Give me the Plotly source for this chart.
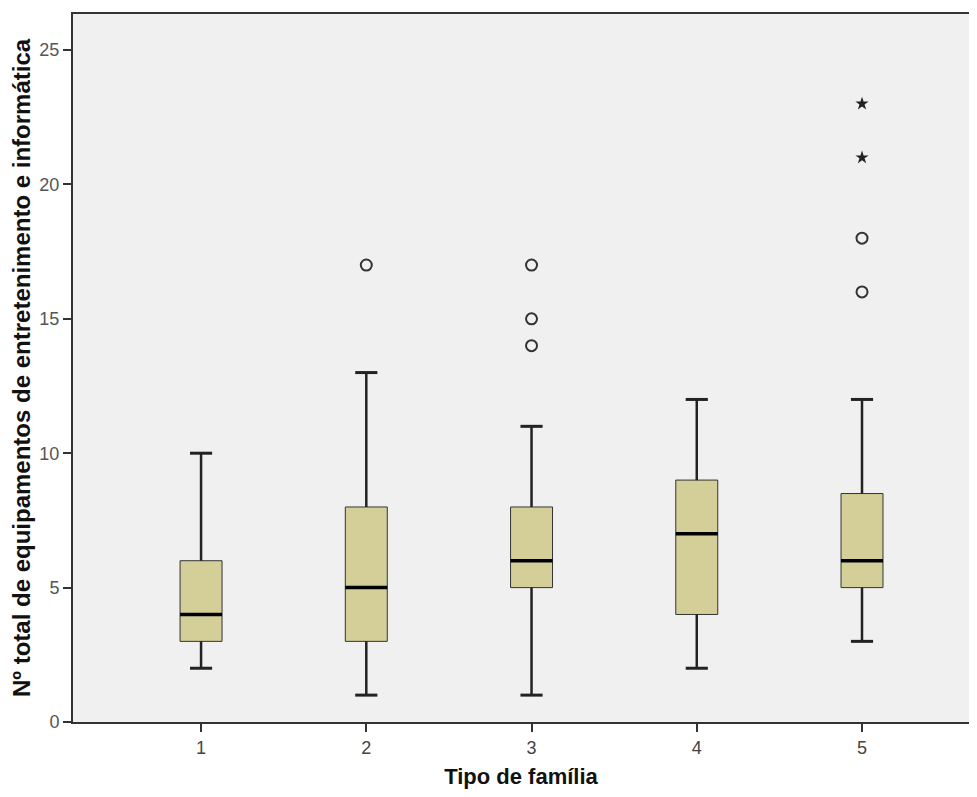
import plotly.graph_objects as go

# Data
groups = [1, 2, 3, 4, 5]
q1 = [3, 3, 5, 4, 5]
median = [4, 5, 6, 7, 6]
q3 = [6, 8, 8, 9, 8.5]
lower = [2, 1, 1, 2, 3]
upper = [10, 13, 11, 12, 12]
outlier_x = [2, 3, 3, 3, 5, 5]
outlier_y = [17, 14, 15, 17, 16, 18]
extreme_x = [5, 5]
extreme_y = [21, 23]
y_ticks = [0, 5, 10, 15, 20, 25]

box_w = 0.254
cap_hw = 0.067
dark = "#222222"

fig = go.Figure()

fig.add_trace(go.Box(
    x=groups, q1=q1, median=median, q3=q3,
    lowerfence=lower, upperfence=upper,
    width=box_w, whiskerwidth=0.5,
    fillcolor="#D4CF98", line=dict(color="#333333", width=1),
    boxpoints=False, showlegend=False, hoverinfo="skip",
))

# thicker whiskers, caps and medians
wx, wy = [], []
for g, a, b, lo, hi in zip(groups, q1, q3, lower, upper):
    wx += [g, g, None, g, g, None]
    wy += [b, hi, None, a, lo, None]
fig.add_trace(go.Scatter(x=wx, y=wy, mode="lines",
                         line=dict(color=dark, width=2.5), showlegend=False, hoverinfo="skip"))
cx, cy = [], []
for g, lo, hi in zip(groups, lower, upper):
    cx += [g - cap_hw, g + cap_hw, None, g - cap_hw, g + cap_hw, None]
    cy += [hi, hi, None, lo, lo, None]
fig.add_trace(go.Scatter(x=cx, y=cy, mode="lines",
                         line=dict(color=dark, width=3), showlegend=False, hoverinfo="skip"))
mx, my = [], []
for g, m in zip(groups, median):
    mx += [g - box_w / 2, g + box_w / 2, None]
    my += [m, m, None]
fig.add_trace(go.Scatter(x=mx, y=my, mode="lines",
                         line=dict(color="#000000", width=3.5), showlegend=False, hoverinfo="skip"))

fig.add_trace(go.Scatter(x=outlier_x, y=outlier_y, mode="markers",
                         marker=dict(symbol="circle-open", size=11, color="#333333",
                                     line=dict(width=2, color="#333333")),
                         showlegend=False, hoverinfo="skip"))
fig.add_trace(go.Scatter(x=extreme_x, y=extreme_y, mode="markers",
                         marker=dict(symbol="star", size=10, color="#222222"),
                         showlegend=False, hoverinfo="skip"))

fig.update_layout(
    width=961, height=781,
    margin=dict(l=65, r=0, t=6, b=67),
    paper_bgcolor="white", plot_bgcolor="#F0F0F0",
    font=dict(family="Liberation Sans, Arial, sans-serif", color="#333333"),
)
fig.update_xaxes(
    range=[0.225, 5.6475], tickvals=groups, ticktext=[str(g) for g in groups],
    showgrid=False, zeroline=False,
    showline=True, linecolor="#333333", linewidth=2, mirror=True,
    ticks="outside", ticklen=8, tickwidth=2, tickcolor="#333333",
    tickfont=dict(size=18, color="#444444"),
    title=dict(text="<b>Tipo de família</b>", font=dict(size=22, color="#111111"), standoff=12),
)
fig.update_yaxes(
    range=[0, 26.34], tickvals=y_ticks,
    showgrid=False, zeroline=False,
    showline=True, linecolor="#333333", linewidth=2,
    ticks="outside", ticklen=8, tickwidth=2, tickcolor="#333333",
    tickfont=dict(size=18, color="#555555"),
    title=dict(text="<b>Nº total de equipamentos de entretenimento e informática</b>",
               font=dict(size=24, color="#111111"), standoff=2),
)

fig.write_html("out.html")
